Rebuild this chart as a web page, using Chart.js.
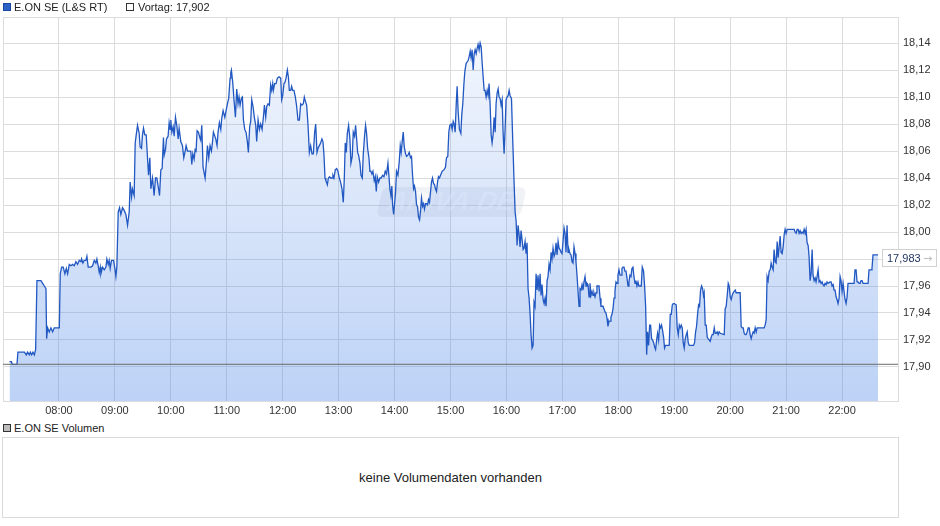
<!DOCTYPE html>
<html>
<head>
<meta charset="utf-8">
<script src="https://cdn.jsdelivr.net/npm/chart.js@4/dist/chart.umd.min.js"></script>
<style>
html,body{margin:0;padding:0;background:#fff;}
body{width:940px;height:526px;position:relative;overflow:hidden;font-family:"Liberation Sans",Arial,sans-serif;color:#222;}
#wrap{position:absolute;left:0;top:0;width:940px;height:420px;}
.lg{position:absolute;font-size:11px;line-height:13px;white-space:nowrap;color:#222;}
.sq{position:absolute;width:6px;height:6px;border:1px solid #333;}
#vol{position:absolute;left:2px;top:437px;width:895px;height:79px;border:1px solid #dadada;display:flex;align-items:center;justify-content:center;font-size:13px;color:#222;}
</style>
</head>
<body>
<div id="wrap"><canvas id="c" width="940" height="420" style="width:940px;height:420px;"></canvas></div>
<div class="sq" style="left:3px;top:3px;background:#2a62c6;border-color:#1b479e;"></div>
<div class="lg" style="left:14px;top:1px;">E.ON SE (L&amp;S RT)</div>
<div class="sq" style="left:126px;top:3px;background:#fff;border-color:#333;"></div>
<div class="lg" style="left:138px;top:1px;">Vortag: 17,902</div>
<div class="sq" style="left:3px;top:424px;background:#bdbdbd;border-color:#333;"></div>
<div class="lg" style="left:14px;top:422px;">E.ON SE Volumen</div>
<div id="vol">keine Volumendaten vorhanden</div>
<script>
// ---- data (time = minutes since midnight, price in EUR) ----
const times = [
427,429,430,435,436,443,445,446.4,448.2,449.3,450.7,452.1,453.6,455,456.4,460.7,462.5,464.3,466.1,466.8,
467.9,469.6,471.4,473.2,475,480.4,481.4,482.9,484.6,486.4,487.9,489.3,491.1,492.9,494.6,496.4,498.2,500,501.8,503.6,
504.3,505.7,507.1,508.9,510,511.4,514.3,516.1,517.9,519.6,520.7,522.1,523.2,524.3,525,526.8,528.6,530.4,531.4,532.9,
533.9,535,536.4,538.6,540,541.1,542.1,543.6,545,546.4,548.2,550,551.8,553.6,555.4,556.4,557.9,558.9,560.7,561.8,
562.9,564.3,566.1,567.1,568.6,569.6,570.7,572.1,573.6,575,576.1,577.5,578.6,580.4,582.1,583.6,585,586.4,587.9,589.3,
590.7,592.1,592.9,594.3,595.4,597.1,598.2,599.3,600,601.1,602.5,603.6,605,606.4,607.9,608.9,610.7,612.5,613.9,615.4,
616.4,617.9,619.6,621.4,622.5,623.6,625,626.1,627.1,628.2,629.6,631.1,632.1,633.2,634.6,636.8,638.2,639.3,640.7,642.1,
643.6,644.6,645.7,648.2,649.6,650.7,652.1,653.6,654.6,656.1,657.9,659.3,660.7,662.1,663.6,664.3,
665,666.4,667.9,669.3,670.7,672.1,673.2,674.3,675.7,676.8,677.9,679.3,680.7,682.1,683.2,684.6,685.7,686.8,688.2,689.6,
691.1,692.1,693.6,695,696.4,697.9,699.3,700.4,701.8,702.9,704.3,705.7,707.1,708.2,709.3,710,711.4,712.9,714.3,716.1,
717.9,718.9,720,721.4,722.5,723.6,725,726.1,727.1,728.6,729.6,730.7,732.1,733.6,735,736.4,737.9,739.3,740.7,742.1,
743.2,744.3,745.7,747.1,748.6,750,751.4,752.9,754.3,755.4,756.8,757.9,759.3,760.7,762.1,763.2,764.3,765.4,766.4,767.9,
769,770.4,771.4,772.9,773.9,775,776.4,777.9,779.3,780.7,782.1,783.6,785,786.1,787.1,788.2,789.3,790.7,792.1,793.2,
794.6,795.7,797.1,798.2,799.3,800.4,801.4,802.9,804,805.4,806.4,807.9,808.9,810,811.1,812.5,813.6,814.6,815.7,816.8,
818.2,819.3,820.4,821.4,822.9,824.3,825.7,827.1,828.6,830,831.4,832.9,833.9,835,836.1,837.1,837.9,839,840,841.1,
842.1,843.6,845,846.1,847.1,848.2,849.3,850.4,851.8,852.9,854.3,855.7,857.1,858.2,859.3,860.4,861.4,862.5,863.6,864.6,
865.7,866.8,867.9,868.9,870,871.1,872.1,873.2,874.3,875.4,876.4,877.5,878.6,879.6,880.7,881.8,882.9,883.9,885,886.1,
887.1,888.2,889.3,
891.1,892.9,894.6,895.7,897.1,898.2,899.3,900.7,901.8,902.9,903.9,905,906.1,907.1,908.2,909.6,911.1,912.1,913.2,914.3,
915.4,916.8,917.9,918.9,920,921.1,922.1,923.2,924.3,925.4,926.4,927.5,928.6,929.6,930.7,931.8,932.9,933.9,935,936.1,
937.1,938.2,939.3,940.4,941.4,942.5,943.6,944.6,945.7,946.8,947.9,948.9,950,951.1,952.1,953.2,954.3,955.4,956.4,957.5,
958.6,959.6,960.7,961.8,962.9,963.9,965.4,966.8,968.2,969.3,970.4,971.4,972.5,973.6,974.6,975.7,976.8,977.9,978.9,980,
981.1,982.1,983.2,984.3,985.4,986.4,987.5,988.6,989.6,990.7,991.8,992.9,993.9,995,996.1,997.1,998.2,999.3,1000.4,1001.4,
1002.5,1003.6,1004.6,1005.7,1006.8,1007.9,1008.9,1010,1011.1,1012.1,1013.2,1014.3,1015.4,1016.4,1017.5,1018.6,1019.6,1020.7,1021.8,1022.9,
1023.9,1025,1026.1,1027.1,1028.2,1029.3,1030.4,1031.4,1032.5,1033.6,1034.6,1035.7,1036.8,1037.9,1038.9,1040,1041.1,1042.1,1043.2,1044.3,
1045.4,1046.4,1047.5,1048.6,1049.6,1050.7,1051.8,1052.9,1053.9,1055,1056.1,1057.1,1058.2,1059.3,1060.4,1061.4,1062.5,1063.6,1064.6,1065.7,
1066.8,1067.9,1068.9,1070,1071.1,1072.1,1073.2,1074.3,1075.4,1076.4,1077.5,1078.6,1079.6,1080.7,1081.8,1082.9,1083.9,1085,1086.1,1087.1,
1088.2,1089.3,1090.4,1091.4,1092.5,1093.6,1094.6,1095.7,1096.8,1097.9,1098.9,1100,1101.1,1102.1,1103.2,
1104.6,1105.7,1107.1,1108.2,1109.3,1110.4,1111.4,1112.5,1113.6,1114.6,1115.7,1116.8,1117.9,1118.9,1120,1121.1,1122.1,1123.2,1124.3,1125.4,
1126.4,1127.5,1128.6,1129.6,1130.7,1134.6,1135.7,1136.8,1137.9,1138.9,1140,1142.1,1143.2,1144.3,1145.4,1146.4,1147.5,1148.6,1149.6,1150.7,
1151.8,1152.9,1153.9,1155,1156.1,1160.7,1161.8,1162.9,1163.9,1165,1166.1,1167.1,1168.2,1169.3,1170.4,1171.4,1172.1,1173.2,1174.3,1175.4,
1176.4,1177.5,1178.6,1179.6,1180.7,1181.8,1182.9,1183.9,1185,1186.1,1187.1,1188.2,1189.3,1193.6,1194.6,1195.7,1196.8,1197.9,1198.9,1200,
1201.1,1202.1,1203.2,1204.3,1205.4,1206.4,1210.7,1211.8,1212.9,1214,1215,1216.1,1217.1,1218.2,1219.3,1220.4,1221.4,1222.5,1223.6,1224.6,
1225.7,1226.8,1227.9,1228.9,1236.4,1237.5,1238.6,1239.6,1240.7,1241.8,1242.9,1243.9,1245,1246.1,1247.1,1248.2,1249.3,1250.4,1251.4,1252.5,
1253.6,1254.6,1255.7,1256.8,1257.9,1258.9,1260,1261.1,1262.1,1264.3,1266.4,1268.6,1269.6,1270.7,1271.8,1272.9,1273.9,1275,1276.1,1277.1,
1278.2,1279.3,1280.4,1281.4,1282.5,1283.6,1284.6,1285.7,1286.8,1287.9,1288.9,1290,1291.1,1292.1,1293.2,1294.3,1295.4,1296.4,1297.5,1298.6,
1299.6,1300.7,1301.8,1302.9,1303.9,1305,1307.1,1308.2,1309.3,1310.4,1311.4,1312.5,1313.6,1314.6,1315.7,1316.8,1317.9,1318.9,1320,1321.1,
1322.1,1323.2,1324.3,1325.4,1326.4,1332.9,1333.9,1335,1336.1,1337.1,1338.2,1339.3,1340.4,1341.4,1342.5,1347.9,1348.9,1351.1,1352.1,1353.2,
1358.6
];
const prices = [
17.904,17.904,17.902,17.902,17.911,17.911,17.909,17.911,17.909,17.911,17.909,17.911,17.909,17.913,17.964,17.964,17.962,17.960,17.958,17.921,
17.929,17.926,17.929,17.926,17.929,17.929,17.969,17.974,17.974,17.969,17.973,17.969,17.976,17.975,17.976,17.975,17.978,17.976,17.979,17.978,
17.980,17.977,17.979,17.979,17.982,17.974,17.974,17.975,17.979,17.977,17.980,17.975,17.970,17.974,17.969,17.974,17.972,17.974,17.980,17.976,
17.979,17.973,17.979,17.979,17.973,17.967,17.974,18.015,18.018,18.013,18.018,18.016,18.013,18.005,18.015,18.037,18.026,18.032,18.027,18.066,
18.072,18.079,18.073,18.063,18.062,18.072,18.077,18.072,18.072,18.055,18.042,18.055,18.032,18.040,18.027,18.040,18.040,18.034,18.027,18.046,
18.047,18.070,18.057,18.061,18.069,18.071,18.081,18.076,18.083,18.074,18.078,18.071,18.085,18.079,18.069,18.077,18.067,18.064,18.055,18.060,
18.064,18.060,18.060,18.060,18.050,18.058,18.054,18.061,18.060,18.075,18.074,18.070,18.068,18.079,18.048,18.040,18.052,18.064,18.055,18.064,
18.060,18.066,18.074,18.069,18.064,18.074,18.081,18.076,18.084,18.090,18.085,18.090,18.095,18.099,18.114,18.118,
18.120,18.111,18.097,18.085,18.106,18.095,18.100,18.094,18.099,18.100,18.083,18.076,18.074,18.067,18.059,18.078,18.082,18.098,18.093,18.085,
18.079,18.067,18.083,18.076,18.080,18.076,18.085,18.094,18.085,18.093,18.095,18.094,18.109,18.105,18.110,18.105,18.110,18.110,18.114,18.115,
18.114,18.098,18.101,18.110,18.111,18.114,18.120,18.115,18.105,18.105,18.108,18.105,18.105,18.100,18.093,18.083,18.083,18.095,18.094,18.095,
18.100,18.097,18.094,18.080,18.059,18.064,18.058,18.058,18.074,18.080,18.059,18.062,18.064,18.066,18.069,18.067,18.057,18.040,18.038,18.035,
18.040,18.041,18.040,18.040,18.042,18.040,18.046,18.047,18.045,18.040,18.037,18.032,18.022,18.040,18.066,18.059,18.073,18.079,18.069,18.051,
18.056,18.074,18.071,18.079,18.069,18.059,18.057,18.051,18.042,18.040,18.057,18.072,18.079,18.073,18.062,18.055,18.045,18.045,18.043,18.045,
18.038,18.041,18.030,18.041,18.037,18.040,18.040,18.042,18.041,18.045,18.043,18.051,18.042,18.032,18.027,18.034,18.020,18.013,18.021,18.030,
18.045,18.042,18.052,18.064,18.059,18.067,18.074,18.063,18.058,18.056,18.057,18.059,18.055,18.056,18.042,18.032,18.034,18.030,18.020,18.019,
18.011,18.009,18.016,18.025,18.019,18.021,18.017,18.021,18.021,18.020,18.024,18.022,18.030,18.037,18.040,18.036,18.035,18.032,18.030,18.037,
18.041,18.040,18.042,
18.045,18.046,18.048,18.055,18.056,18.074,18.079,18.080,18.076,18.082,18.080,18.074,18.094,18.108,18.089,18.076,18.073,18.087,18.095,18.109,
18.119,18.125,18.126,18.127,18.130,18.134,18.129,18.135,18.120,18.132,18.135,18.132,18.136,18.139,18.135,18.140,18.137,18.126,18.115,18.105,
18.105,18.100,18.105,18.101,18.110,18.094,18.072,18.066,18.072,18.085,18.074,18.095,18.103,18.106,18.100,18.099,18.094,18.098,18.074,18.058,
18.077,18.098,18.100,18.101,18.105,18.101,18.099,18.067,18.037,18.015,18.008,17.990,18.005,17.998,17.989,18.001,17.994,17.987,17.988,17.993,
17.984,17.992,17.958,17.951,17.939,17.924,17.914,17.916,17.948,17.945,17.969,17.957,17.968,17.956,17.969,17.953,17.961,17.950,17.947,17.951,
17.945,17.964,17.967,17.976,17.972,17.985,17.980,17.988,17.982,17.984,17.992,17.983,17.993,17.988,17.987,17.985,17.984,17.993,18.003,17.999,
17.985,18.005,17.985,17.987,17.984,17.983,17.978,17.977,17.989,17.984,17.978,17.968,17.956,17.945,17.958,17.957,17.961,17.957,17.963,17.967,
17.960,17.962,17.961,17.952,17.962,17.953,17.956,17.953,17.955,17.952,17.955,17.960,17.960,17.960,17.951,17.945,17.945,17.945,17.945,17.941,
17.940,17.936,17.930,17.934,17.934,17.937,17.939,17.943,17.951,17.956,17.963,17.962,17.968,17.972,17.968,17.968,17.973,17.974,17.974,17.971,
17.971,17.966,17.960,17.963,17.968,17.967,17.973,17.974,17.967,17.962,17.964,17.960,17.963,17.960,17.960,
17.960,17.974,17.971,17.960,17.945,17.909,17.926,17.916,17.931,17.931,17.921,17.920,17.918,17.915,17.913,17.920,17.925,17.920,17.931,17.929,
17.931,17.927,17.922,17.914,17.916,17.916,17.939,17.939,17.946,17.947,17.947,17.946,17.929,17.924,17.931,17.929,17.931,17.929,17.918,17.914,
17.921,17.924,17.926,17.918,17.916,17.916,17.918,17.926,17.930,17.939,17.946,17.945,17.957,17.960,17.958,17.953,17.955,17.931,17.931,17.922,
17.921,17.920,17.919,17.922,17.924,17.924,17.929,17.925,17.925,17.926,17.924,17.926,17.925,17.924,17.943,17.945,17.953,17.962,17.960,17.952,
17.950,17.953,17.955,17.956,17.957,17.955,17.955,17.930,17.929,17.929,17.925,17.924,17.924,17.926,17.929,17.929,17.924,17.921,17.924,17.926,
17.925,17.929,17.926,17.929,17.929,17.931,17.935,17.967,17.964,17.971,17.972,17.977,17.974,17.972,17.987,17.978,17.977,17.993,17.981,17.989,
17.997,17.985,17.984,17.989,17.998,18.002,17.999,18.002,18.002,18.002,18.002,18.002,18.000,17.999,18.002,18.002,17.999,18.001,17.999,18.000,
17.999,18.002,17.999,18.002,17.992,17.990,17.982,17.964,17.969,17.987,17.968,17.964,17.966,17.963,17.967,17.972,17.963,17.964,17.962,17.963,
17.961,17.960,17.962,17.961,17.963,17.962,17.963,17.963,17.960,17.961,17.957,17.957,17.952,17.950,17.947,17.951,17.967,17.964,17.956,17.962,
17.956,17.950,17.947,17.952,17.962,17.962,17.972,17.972,17.963,17.963,17.962,17.962,17.964,17.964,17.962,17.962,17.972,17.972,17.973,17.983,
17.983
];
const prevClose = 17.902;
const xTickMinutes = [420,480,540,600,660,720,780,840,900,960,1020,1080,1140,1200,1260,1320,1380];
const yTickValues = [17.90,17.92,17.94,17.96,17.98,18.00,18.02,18.04,18.06,18.08,18.10,18.12,18.14];
const xMin = 420, xMax = 1380;
const yMin = 17.8748, yMax = 18.1593;

const FONT = '"Liberation Sans", Arial, sans-serif';
const fmtTime = m => String(Math.floor(m/60)).padStart(2,'0') + ':' + String(m%60).padStart(2,'0');
const fmtNum = (v, d) => v.toFixed(d).replace('.', ',');

const watermark = {
  id: 'watermark',
  beforeDatasetsDraw(chart) {
    const {ctx, chartArea: a} = chart;
    const cx = (a.left + a.right) / 2 + 1, cy = (a.top + a.bottom) / 2 - 7;
    ctx.save();
    ctx.translate(cx, cy);
    ctx.transform(1, 0, -0.22, 1, 0, 0);
    ctx.fillStyle = 'rgba(190,198,212,0.22)';
    ctx.beginPath();
    ctx.roundRect(-72, -15, 144, 30, 7);
    ctx.fill();
    ctx.fillStyle = 'rgba(255,255,255,0.45)';
    ctx.font = 'italic bold 27px ' + FONT;
    ctx.textAlign = 'center';
    ctx.textBaseline = 'middle';
    ctx.fillText('ARIVA.DE', 0, 1);
    ctx.restore();
  }
};

const lastLabel = {
  id: 'lastLabel',
  afterDraw(chart) {
    const {ctx, chartArea: a, scales} = chart;
    const v = prices[prices.length - 1];
    const py = Math.round(scales.y.getPixelForValue(v)) + 3;
    const bx = a.right - 16, bw = 55, bh = 18;
    const by = py - bh / 2;
    ctx.save();
    ctx.fillStyle = '#fff';
    ctx.fillRect(bx, by, bw, bh);
    ctx.strokeStyle = '#d0d0d0';
    ctx.lineWidth = 1;
    ctx.strokeRect(bx + 0.5, by + 0.5, bw - 1, bh - 1);
    ctx.font = '11px ' + FONT;
    ctx.textBaseline = 'middle';
    ctx.textAlign = 'left';
    ctx.fillStyle = '#1c2f5c';
    ctx.fillText(fmtNum(v, 3), bx + 5, py + 1);
    ctx.fillStyle = '#bdbdbd';
    ctx.font = '11px "DejaVu Sans", ' + FONT;
    ctx.fillText('\u2192', bx + 41, py + 1);
    ctx.restore();
  }
};

const gradientFill = (context) => {
  const {chart} = context;
  const a = chart.chartArea;
  if (!a) return 'rgba(70,130,230,0.2)';
  const g = chart.ctx.createLinearGradient(0, a.top, 0, a.bottom);
  g.addColorStop(0, 'rgba(70,130,230,0.05)');
  g.addColorStop(1, 'rgba(70,130,230,0.36)');
  return g;
};

new Chart(document.getElementById('c'), {
  type: 'line',
  data: {
    datasets: [
      {
        data: times.map((t, i) => ({x: t, y: prices[i]})),
        borderColor: '#2258c2',
        borderWidth: 1.3,
        pointRadius: 0,
        tension: 0,
        fill: 'start',
        backgroundColor: gradientFill,
        order: 1
      },
      {
        data: [{x: xMin, y: prevClose}, {x: xMax, y: prevClose}],
        borderColor: '#6a6a6a',
        borderWidth: 1,
        pointRadius: 0,
        fill: false,
        order: 0
      }
    ]
  },
  options: {
    responsive: false,
    animation: false,
    devicePixelRatio: 1,
    events: [],
    layout: {padding: {left: 2, top: 17, right: 0, bottom: 0}},
    plugins: {legend: {display: false}, tooltip: {enabled: false}},
    scales: {
      x: {
        type: 'linear',
        min: xMin,
        max: xMax,
        afterBuildTicks: s => { s.ticks = xTickMinutes.map(v => ({value: v})); },
        afterFit: s => { s.height = 19; },
        grid: {color: '#dcdcdc', drawTicks: false},
        border: {color: '#dcdcdc'},
        ticks: {
          autoSkip: false, maxRotation: 0, padding: 3, color: '#333',
          font: {family: FONT, size: 11},
          callback: v => (v === xMin || v === xMax) ? '' : fmtTime(v)
        }
      },
      y: {
        position: 'right',
        min: yMin,
        max: yMax,
        afterBuildTicks: s => { s.ticks = [yMin, ...yTickValues, yMax].map(v => ({value: v})); },
        afterFit: s => { s.width = 42; },
        grid: {color: '#dcdcdc', drawTicks: false},
        border: {color: '#dcdcdc'},
        ticks: {
          padding: 5, color: '#333',
          font: {family: FONT, size: 11},
          callback: v => yTickValues.includes(v) ? fmtNum(v, 2) : ''
        }
      }
    }
  },
  plugins: [watermark, lastLabel]
});
</script>
</body>
</html>
